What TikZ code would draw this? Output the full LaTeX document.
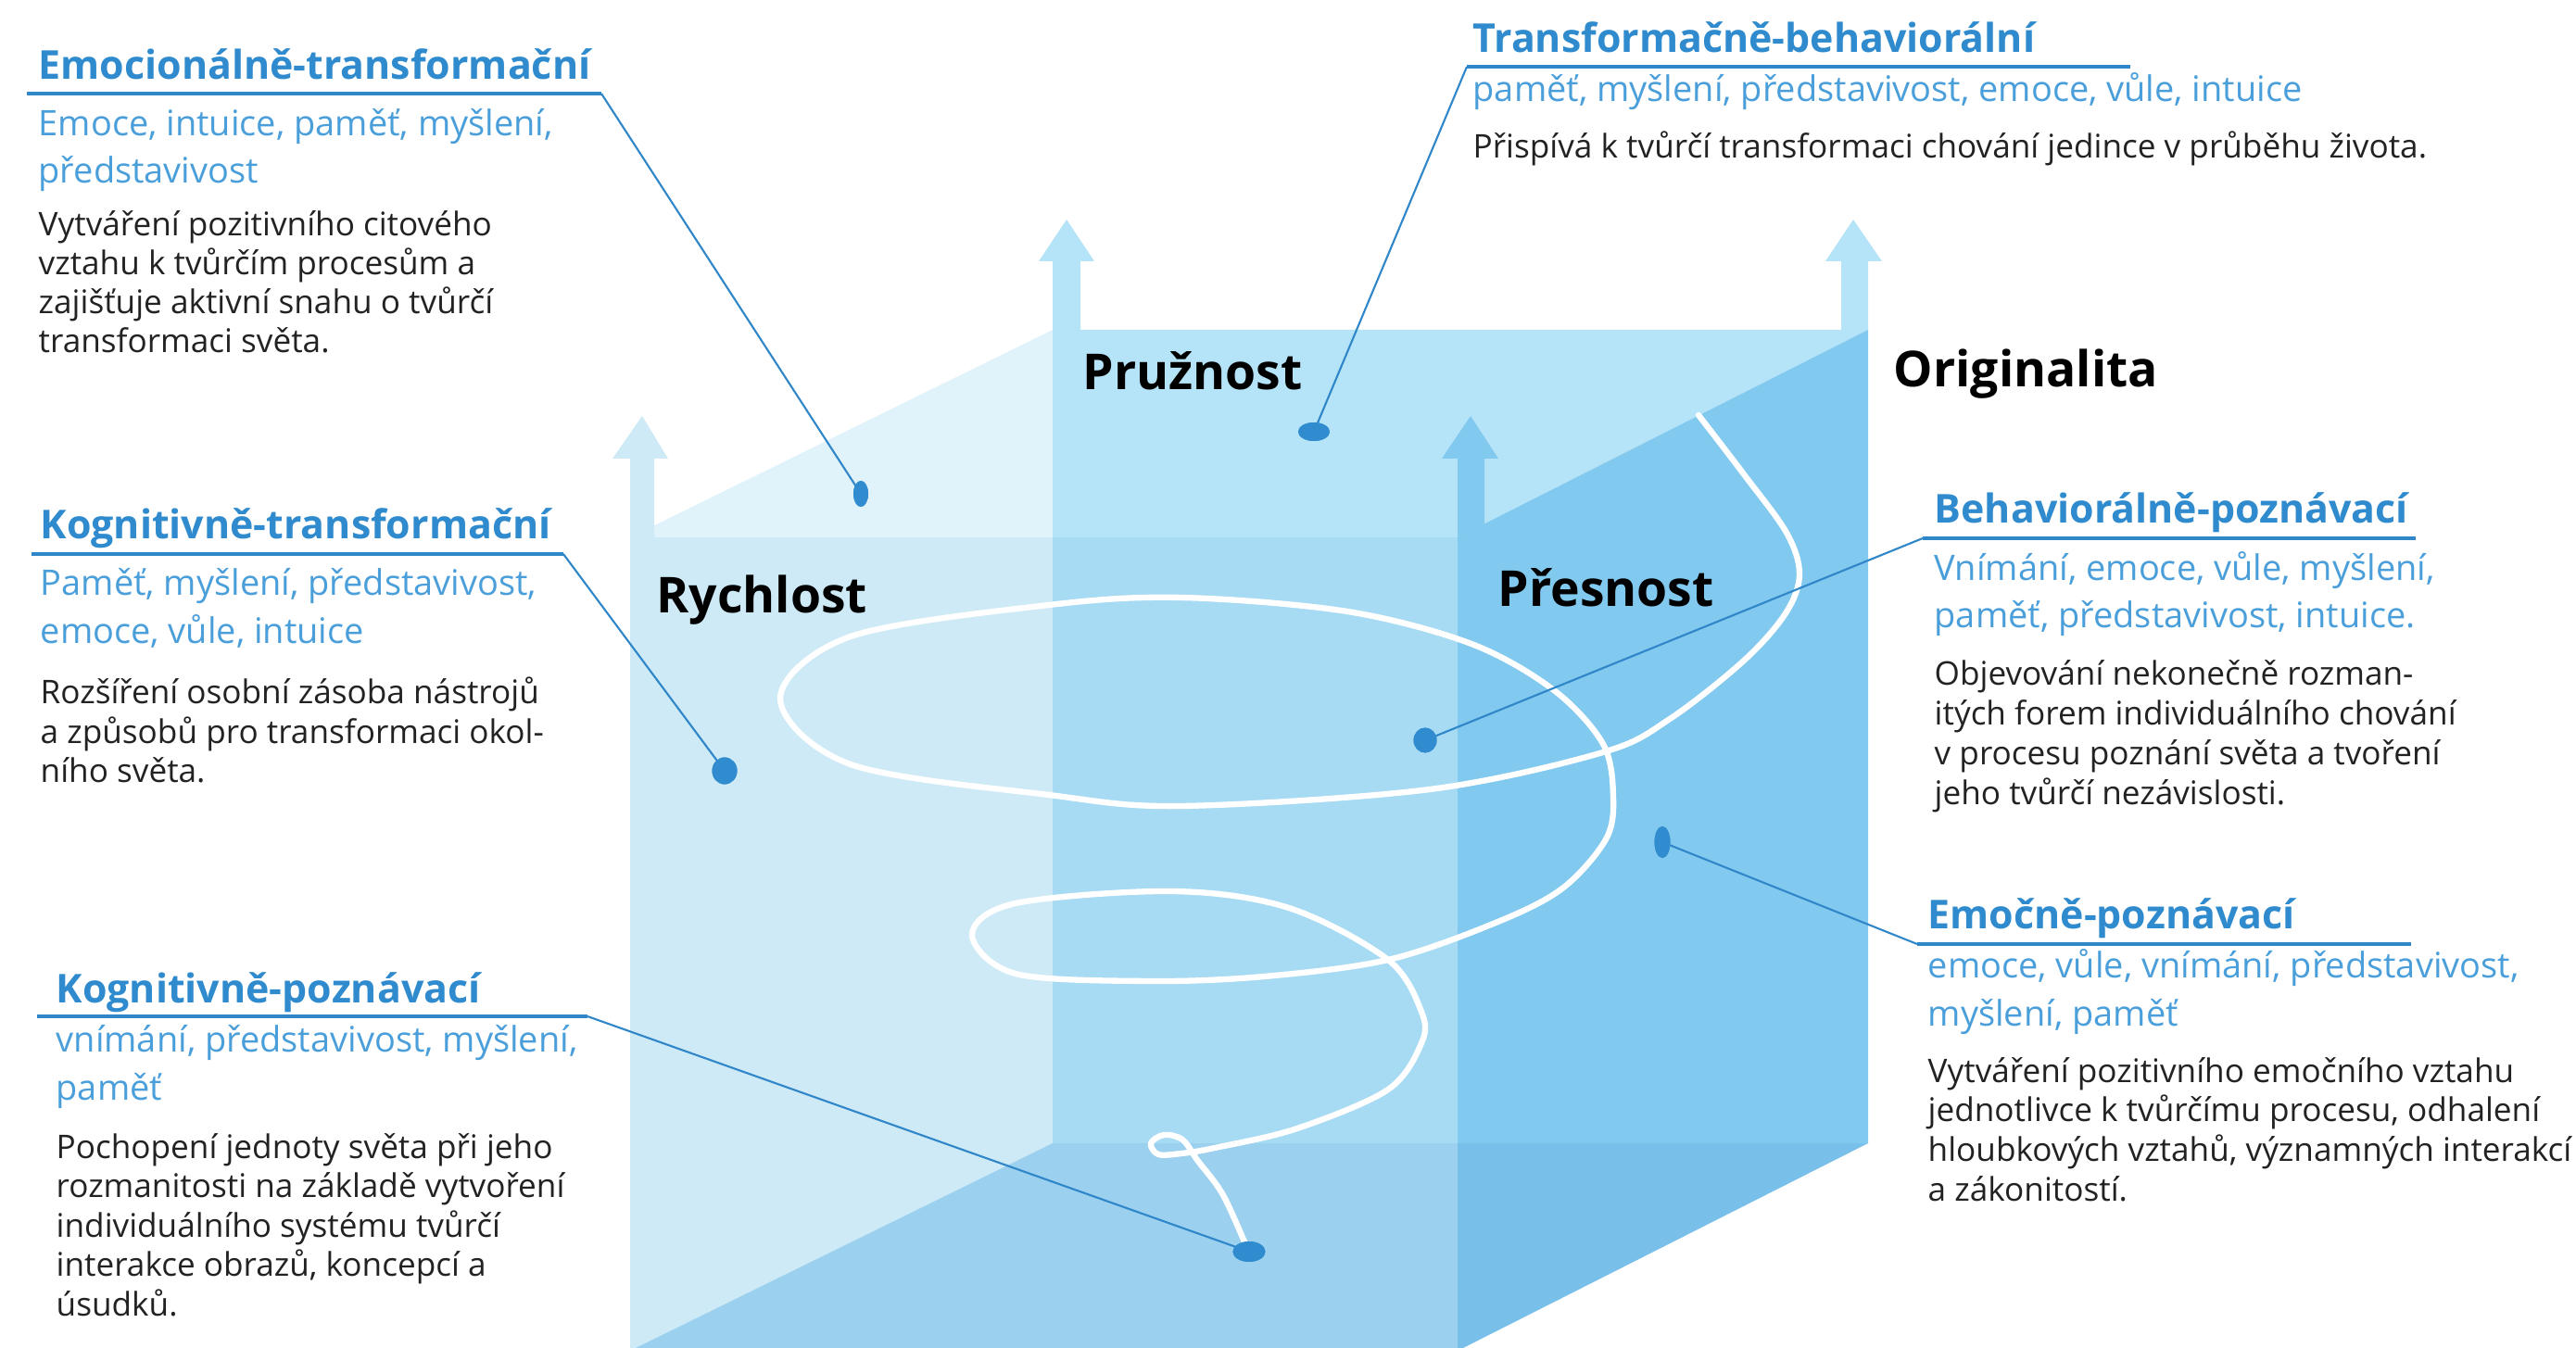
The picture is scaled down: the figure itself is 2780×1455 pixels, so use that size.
\documentclass[tikz,border=0pt]{standalone}
\usepackage{fontspec}
\setmainfont{Open Sans}
\usetikzlibrary{shapes.geometric}
\definecolor{cFL}{HTML}{CDEAF6}
\definecolor{cFM}{HTML}{A7DBF4}
\definecolor{cR}{HTML}{82C9EF}
\definecolor{cTL}{HTML}{E0F2FA}
\definecolor{cT}{HTML}{B5E3F7}
\definecolor{cB}{HTML}{9BD0EE}
\definecolor{cBR}{HTML}{78BFE9}
\definecolor{headblue}{HTML}{2F8BCD}
\definecolor{subblue}{HTML}{4A9FDB}
\definecolor{lineblue}{HTML}{2F86C8}
\definecolor{dotblue}{HTML}{318CCF}
\definecolor{bodytext}{HTML}{222222}
\begin{document}
\begin{tikzpicture}[x=0.01cm,y=-0.01cm,
  head/.style={anchor=base west, inner sep=0, text=headblue, font=\bfseries\fontsize{12.2}{14}\selectfont},
  sub/.style={anchor=base west, inner sep=0, text=subblue, font=\fontsize{10.8}{13}\selectfont},
  body/.style={anchor=base west, inner sep=0, text=bodytext, font=\fontsize{10}{12}\selectfont},
  lab/.style={anchor=base west, inner sep=0, text=black, font=\bfseries\fontsize{15.2}{18}\selectfont},
  dot/.style={ellipse, fill=dotblue, inner sep=0},
  lead/.style={draw=lineblue, line width=0.6pt},
  uline/.style={draw=lineblue, line width=1.1pt},
  spiral/.style={draw=white, line width=1.8pt, line cap=round, line join=round}]
\useasboundingbox (0,0) rectangle (2780,1455);
% cube faces
\fill[cFL] (680,580) rectangle (1136,1458);
\fill[cB] (1136,1234) -- (1136,1458) -- (680,1458) -- cycle;
\fill[cFM] (1136,580) rectangle (1573,1234);
\fill[cB] (1136,1234) rectangle (1573,1458);
\fill[cTL] (680,580) -- (1136,356) -- (1136,580) -- cycle;
\fill[cT] (1136,356) -- (2016,356) -- (1573,580) -- (1136,580) -- cycle;
\fill[cR] (1573,580) -- (2016,356) -- (2016,1234) -- (1573,1234) -- cycle;
\fill[cBR] (1573,1234) -- (2016,1234) -- (1573,1458) -- cycle;
% arrows
\fill[cFL] (680,580) -- (680,495) -- (661,495) -- (693,449) -- (721,495) -- (706,495) -- (706,580) -- cycle;
\fill[cT] (1136,356) -- (1136,282) -- (1121,282) -- (1151,237) -- (1181,282) -- (1166,282) -- (1166,356) -- cycle;
\fill[cT] (1987,356) -- (1987,282) -- (1970,282) -- (2000,237) -- (2031,282) -- (2016,282) -- (2016,356) -- cycle;
\fill[cR] (1573,580) -- (1573,495) -- (1556,495) -- (1587,449) -- (1617,495) -- (1602,495) -- (1602,566) -- cycle;
% spiral
\draw[spiral] plot[smooth, tension=0.55] coordinates {
 (1833,448) (1882,512) (1928,575) (1942,620) (1927,662) (1882,713) (1802,776) (1730,812)
 (1543,852) (1275,870) (1132,858) (918,825) (842,754) (918,687) (1132,653) (1275,645)
 (1454,660) (1588,695) (1677,745) (1730,803) (1741,860) (1733,906) (1686,959) (1614,996)
 (1498,1036) (1364,1054) (1239,1059) (1096,1051) (1049,1009) (1096,975) (1266,962) (1391,980)
 (1498,1036) (1534,1092) (1534,1126) (1498,1176) (1400,1218) (1311,1239) (1275,1245)
 (1250,1246) (1242,1234) (1256,1225) (1276,1230) (1292,1252) (1320,1290) (1347,1350)};
% labels
\node[lab] (pruz) at (1168,421) {Pružnost};
\node[lab] (rych) at (708,662) {Rychlost};
\node[lab] (pres) at (1616,655) {Přesnost};
\node[lab] (orig) at (2043,418) {Originalita};
% dots
\node[dot, minimum width=0.16cm, minimum height=0.28cm] (d1) at (929,533) {};
\node[dot, minimum width=0.34cm, minimum height=0.20cm] (d2) at (1418,466) {};
\node[dot, minimum width=0.27cm, minimum height=0.29cm] (d3) at (782,832) {};
\node[dot, minimum width=0.25cm, minimum height=0.27cm] (d4) at (1538,799) {};
\node[dot, minimum width=0.17cm, minimum height=0.34cm] (d5) at (1794,909) {};
\node[dot, minimum width=0.35cm, minimum height=0.22cm] (d6) at (1348,1351) {};
% underline coordinates
\coordinate (u1a) at (29,101);   \coordinate (u1b) at (649,101);
\coordinate (u2a) at (2299,72);  \coordinate (u2b) at (1583,72);
\coordinate (u3a) at (34,598);   \coordinate (u3b) at (608,598);
\coordinate (u4a) at (2607,581); \coordinate (u4b) at (2075,581);
\coordinate (u5a) at (2602,1019);\coordinate (u5b) at (2069,1019);
\coordinate (u6a) at (40,1097);  \coordinate (u6b) at (634,1097);
\foreach \k in {1,...,6}{
  \draw[uline] (u\k a) -- (u\k b);
  \draw[lead] (u\k b) -- (d\k.center);
}
% redraw dots over leaders
\node[dot, minimum width=0.16cm, minimum height=0.28cm] at (d1) {};
\node[dot, minimum width=0.34cm, minimum height=0.20cm] at (d2) {};
\node[dot, minimum width=0.27cm, minimum height=0.29cm] at (d3) {};
\node[dot, minimum width=0.25cm, minimum height=0.27cm] at (d4) {};
\node[dot, minimum width=0.17cm, minimum height=0.34cm] at (d5) {};
\node[dot, minimum width=0.35cm, minimum height=0.22cm] at (d6) {};
% block 1
\node[head] (h1) at (41,86) {Emocionálně-transformační};
\node[sub] (s1a) at (41,147) {Emoce, intuice, paměť, myšlení,};
\node[sub] (s1b) at (41,198) {představivost};
\foreach \t [count=\i from 0] in {{Vytváření pozitivního citového},{vztahu k tvůrčím procesům a},{zajišťuje aktivní snahu o tvůrčí},{transformaci světa.}}
  \node[body] (b1l\i) at (41,{255+42*\i}) {\t};
% block 2
\node[head] (h2) at (1589,57) {Transformačně-behaviorální};
\node[sub] (s2a) at (1589,110) {paměť, myšlení, představivost, emoce, vůle, intuice};
\node[body] (b2l0) at (1589,171) {Přispívá k tvůrčí transformaci chování jedince v průběhu života.};
% block 3
\node[head] (h3) at (43,582) {Kognitivně-transformační};
\node[sub] (s3a) at (43,643) {Paměť, myšlení, představivost,};
\node[sub] (s3b) at (43,695) {emoce, vůle, intuice};
\foreach \t [count=\i from 0] in {{Rozšíření osobní zásoba nástrojů},{a způsobů pro transformaci okol-},{ního světa.}}
  \node[body] (b3l\i) at (43,{760+42.5*\i}) {\t};
% block 4
\node[head] (h4) at (2087,565) {Behaviorálně-poznávací};
\node[sub] (s4a) at (2087,627) {Vnímání, emoce, vůle, myšlení,};
\node[sub] (s4b) at (2087,678) {paměť, představivost, intuice.};
\foreach \t [count=\i from 0] in {{Objevování nekonečně rozman-},{itých forem individuálního chování},{v procesu poznání světa a tvoření},{jeho tvůrčí nezávislosti.}}
  \node[body] (b4l\i) at (2087,{740+42.7*\i}) {\t};
% block 5
\node[head] (h5) at (2080,1002) {Emočně-poznávací};
\node[sub] (s5a) at (2080,1055) {emoce, vůle, vnímání, představivost,};
\node[sub] (s5b) at (2080,1107) {myšlení, paměť};
\foreach \t [count=\i from 0] in {{Vytváření pozitivního emočního vztahu},{jednotlivce k tvůrčímu procesu, odhalení},{hloubkových vztahů, významných interakcí},{a zákonitostí.}}
  \node[body] (b5l\i) at (2080,{1168+42.7*\i}) {\t};
% block 6
\node[head] (h6) at (60,1083) {Kognitivně-poznávací};
\node[sub] (s6a) at (60,1135) {vnímání, představivost, myšlení,};
\node[sub] (s6b) at (60,1187) {paměť};
\foreach \t [count=\i from 0] in {{Pochopení jednoty světa při jeho},{rozmanitosti na základě vytvoření},{individuálního systému tvůrčí},{interakce obrazů, koncepcí a},{úsudků.}}
  \node[body] (b6l\i) at (60,{1250+42.5*\i}) {\t};
\end{tikzpicture}
\end{document}
